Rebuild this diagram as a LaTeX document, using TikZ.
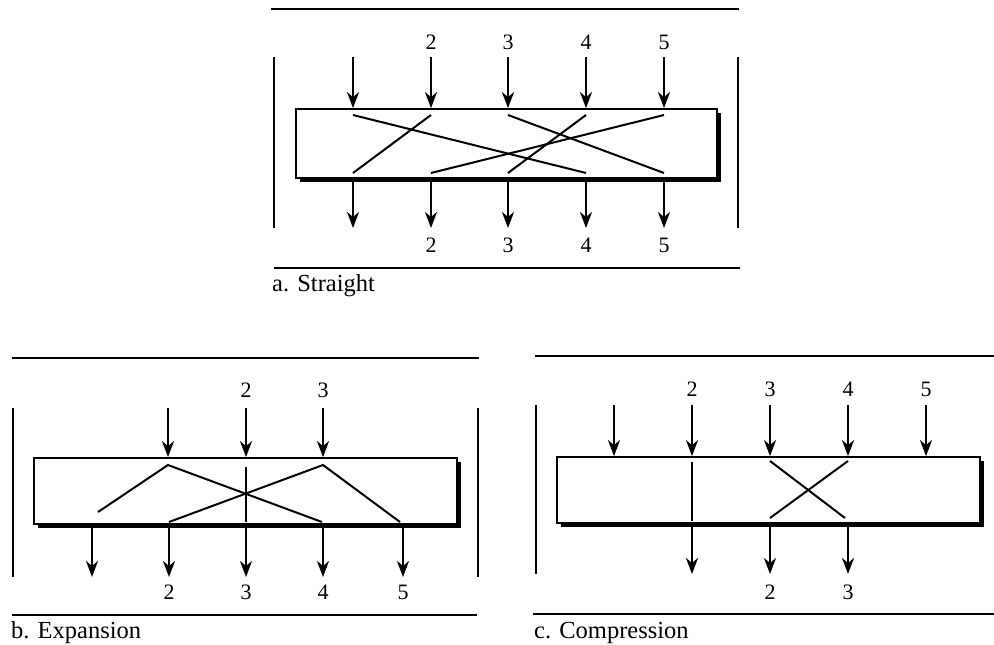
\documentclass[tikz,border=0pt]{standalone}
\usepackage{fontspec}
\setmainfont{Liberation Serif}
\usetikzlibrary{arrows.meta,shadows,positioning}

\tikzset{
  rule/.style={line width=1.4pt},
  bar/.style={line width=2.2pt},
  flow/.style={line width=2.3pt,-{Stealth[length=16pt,width=12pt,inset=5pt]}},
  wire/.style={line width=2pt},
  pbox/.style={draw,line width=1.8pt,fill=white,inner sep=0pt,
    general shadow={fill=black,shadow xshift=4pt,shadow yshift=-4pt}},
  num/.style={font=\fontsize{22}{26}\selectfont,inner sep=0pt},
  captext/.style={font=\fontsize{24.5}{29}\selectfont,inner sep=0pt,anchor=west},
}

\begin{document}
\begin{tikzpicture}[x=1pt,y=-1pt]
\useasboundingbox (0,0) rectangle (994,645);

% a. Straight
\draw[rule] (271,9)--(739,9);
\draw[rule] (274,268)--(740,268);
\draw[bar] (274,57)--(274,228);
\draw[bar] (738,57)--(738,228);

\node[pbox,minimum width=421pt,minimum height=69pt] (aBox) at (506.5,143.5) {};

\foreach \i/\x in {1/353,2/431,3/508,4/586,5/664} {
  \coordinate (aIn\i) at (\x,57);
  \coordinate (aOut\i) at (\x,228);
  \coordinate (aT\i) at (\x,115);
  \coordinate (aB\i) at (\x,173);
  \draw[flow] (aIn\i) -- (aIn\i |- aBox.north);
  \draw[flow] (aOut\i |- aBox.south) -- (aOut\i);
}
\foreach \i/\j in {1/4,2/1,3/5,4/3,5/2}
  \draw[wire] (aT\i) -- (aB\j);
\foreach \i in {2,...,5} {
  \node[num,above=7pt of aIn\i] (aInL\i) {\i};
  \node[num,below=10pt of aOut\i] (aOutL\i) {\i};
}
\node[captext] (aCap) at (272,286) {a. Straight};

% b. Expansion
\draw[rule] (12,358)--(479,358);
\draw[rule] (12,615)--(477,615);
\draw[bar] (13,408)--(13,577);
\draw[bar] (478,408)--(478,577);

\node[pbox,minimum width=423pt,minimum height=66pt] (bBox) at (245.5,491) {};

\foreach \i/\x in {1/92,2/169,3/246,4/323,5/403} {
  \coordinate (bOut\i) at (\x,577);
  \draw[flow] (bOut\i |- bBox.south) -- (bOut\i);
}
\foreach \i/\x in {1/168,2/246,3/323} {
  \coordinate (bIn\i) at (\x,408);
  \draw[flow] (bIn\i) -- (bIn\i |- bBox.north);
}
\coordinate (bT1) at (168,465);
\coordinate (bT3) at (323,465);
\draw[wire] (98,512) -- (bT1) -- (322,522);
\draw[wire] (169,522) -- (bT3) -- (400,522);
\draw[line width=1.4pt] (246,467) -- (246,522);
\foreach \i in {2,3}
  \node[num,above=10pt of bIn\i] (bInL\i) {\i};
\foreach \i in {2,...,5}
  \node[num,below=8pt of bOut\i] (bOutL\i) {\i};
\node[captext] (bCap) at (11,633) {b. Expansion};

% c. Compression
\draw[rule] (535,356)--(994,356);
\draw[rule] (533,614)--(994,614);
\draw[bar] (536,405)--(536,574);

\node[pbox,minimum width=423pt,minimum height=66pt] (cBox) at (768.5,490) {};

\foreach \i/\x in {1/614,2/692,3/770,4/848,5/926} {
  \coordinate (cIn\i) at (\x,405);
  \draw[flow] (cIn\i) -- (cIn\i |- cBox.north);
}
\foreach \i/\x in {1/692,2/770,3/848} {
  \coordinate (cOut\i) at (\x,574);
  \draw[flow] (cOut\i |- cBox.south) -- (cOut\i);
}
\draw[line width=1.4pt] (692,462) -- (692,521);
\draw[wire] (770,461) -- (845,518);
\draw[wire] (848,461) -- (770,518);
\foreach \i in {2,...,5}
  \node[num,above=8pt of cIn\i] (cInL\i) {\i};
\node[num,below=11pt of cOut2] (cOutL2) {2};
\node[num,below=11pt of cOut3] (cOutL3) {3};
\node[captext] (cCap) at (534,633) {c. Compression};

\end{tikzpicture}
\end{document}
